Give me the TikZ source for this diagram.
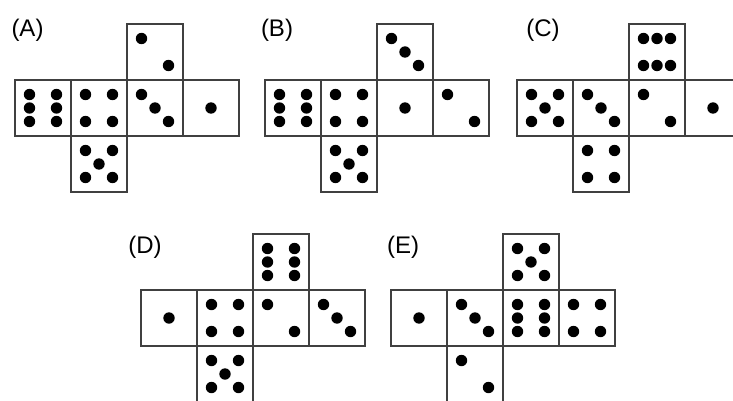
\documentclass[tikz,border=0pt]{standalone}
\usepackage{fontspec}
\setmainfont{Liberation Sans}
\tikzset{
  face/.style={draw=black!75, line width=1.3pt},
  pip/.style={fill=black},
  lab/.style={font=\fontsize{24}{28}\selectfont, inner sep=0pt}
}
\def\pOne{28/28}
\def\pTwo{14.5/14.5,41.5/41.5}
\def\pThree{14.5/14.5,28/28,41.5/41.5}
\def\pFour{14.5/14.5,41.5/14.5,14.5/41.5,41.5/41.5}
\def\pFive{14.5/14.5,41.5/14.5,14.5/41.5,41.5/41.5,28/28}
\def\pSixV{14.5/14.5,14.5/28,14.5/41.5,41.5/14.5,41.5/28,41.5/41.5}
\def\pSixH{14.5/14.5,28/14.5,41.5/14.5,14.5/41.5,28/41.5,41.5/41.5}
\newcommand\dieface[3]{%
  \begin{scope}[shift={(#1,#2)}]
    \draw[face] (0,0) rectangle (56,56);
    \foreach \u/\v in #3 {\fill[pip] (\u,\v) circle[radius=5.7pt];}
  \end{scope}}
\newcommand\dienet[8]{%
  \begin{scope}[shift={(#1,#2)}]
    \dieface{0}{0}{#3}
    \dieface{56}{0}{#4}
    \dieface{112}{0}{#5}
    \dieface{168}{0}{#6}
    \dieface{112}{-56}{#7}
    \dieface{56}{56}{#8}
  \end{scope}}
\begin{document}
\begin{tikzpicture}[x=1pt,y=-1pt]
\useasboundingbox (0,0) rectangle (733,401);
\dienet{15}{80}{\pSixV}{\pFour}{\pThree}{\pOne}{\pTwo}{\pFive}
\dienet{265}{80}{\pSixV}{\pFour}{\pOne}{\pTwo}{\pThree}{\pFive}
\dienet{517}{80}{\pFive}{\pThree}{\pTwo}{\pOne}{\pSixH}{\pFour}
\dienet{141}{290}{\pOne}{\pFour}{\pTwo}{\pThree}{\pSixV}{\pFive}
\dienet{391}{290}{\pOne}{\pThree}{\pSixV}{\pFour}{\pFive}{\pTwo}
\node[lab] (labA) at (27.5,30.5) {(A)};
\node[lab] (labB) at (277,30.5) {(B)};
\node[lab] (labC) at (543,30.5) {(C)};
\node[lab] (labD) at (145,247) {(D)};
\node[lab] (labE) at (403,247) {(E)};
\end{tikzpicture}
\end{document}
